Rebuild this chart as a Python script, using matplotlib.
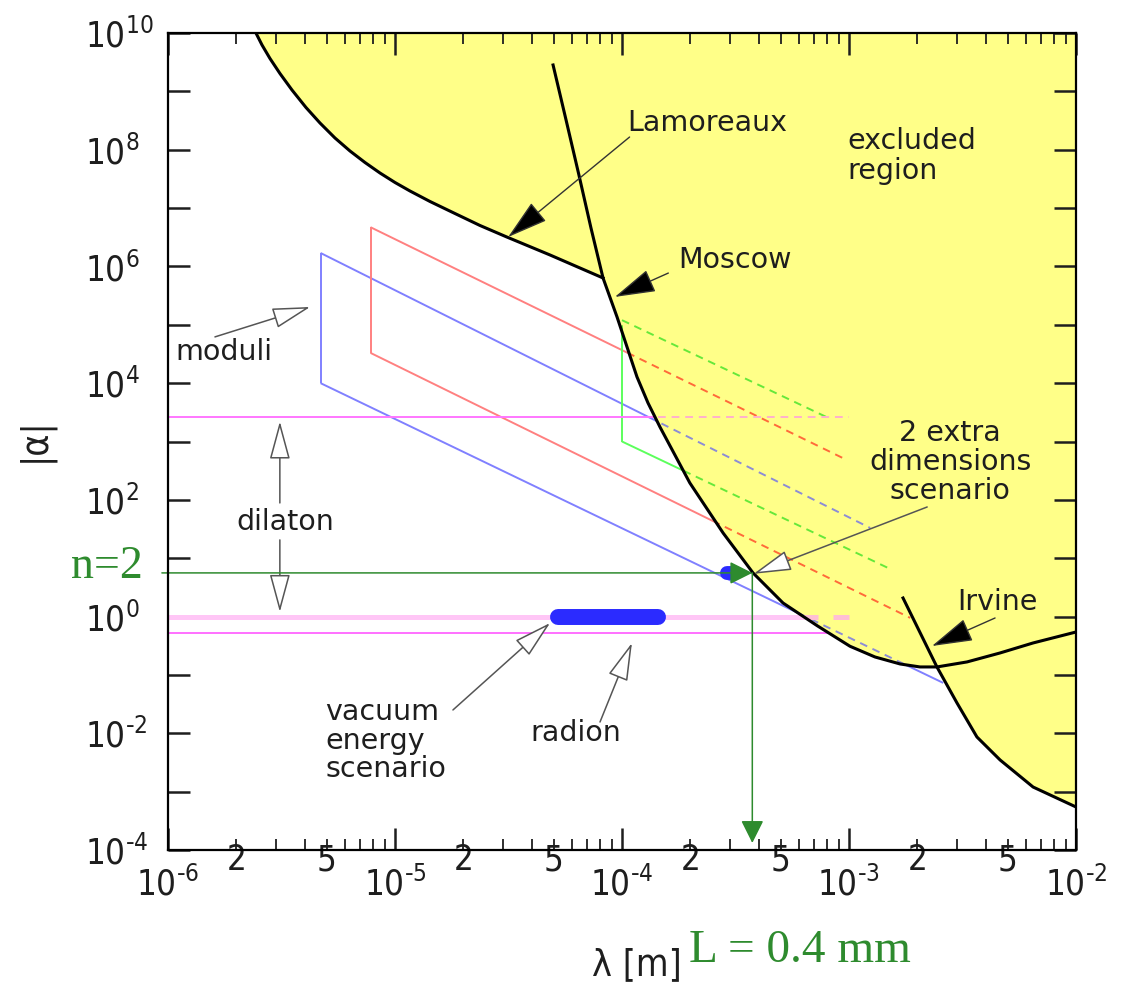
import numpy as np
import matplotlib
matplotlib.use('Agg')
import matplotlib.pyplot as plt
from matplotlib import font_manager as fm
from matplotlib.patches import Polygon
from matplotlib.ticker import FixedLocator, FixedFormatter, NullLocator

# ---- values (lambda in m, |alpha|) ----
lam_lamoreaux = [2.44e-6, 2.595e-6, 2.813e-6, 3.113e-6, 3.517e-6, 4.054e-6, 4.672e-6,
                 5.44e-6, 6.334e-6, 7.375e-6, 8.587e-6, 1.0e-5, 1.164e-5, 1.426e-5,
                 1.837e-5, 2.368e-5, 3.11e-5, 4.82e-5, 6.53e-5, 8.25e-5]
alpha_lamoreaux = [1e10, 6.23e9, 3.66e9, 2.023e9, 1.055e9, 5.29e8, 2.87e8,
                   1.588e8, 9.51e7, 6.04e7, 3.99e7, 2.744e7, 1.962e7, 1.297e7,
                   8.07e6, 5.03e6, 3.19e6, 1.57e6, 9.40e5, 6.34e5]

lam_moscow = [4.97e-5, 5.67e-5, 6.46e-5, 7.30e-5, 8.25e-5, 9.51e-5, 1.164e-4, 1.302e-4,
              1.47e-4, 1.99e-4, 2.79e-4, 3.78e-4, 5.12e-4, 7.23e-4, 1.01e-3, 1.302e-3,
              1.68e-3, 2.055e-3, 2.44e-3, 3.31e-3, 4.63e-3, 6.47e-3, 1.0e-2]
alpha_moscow = [2.83e9, 3.23e8, 3.69e7, 4.56e6, 6.34e5, 1.36e5, 1.28e4, 4.57e3,
                1.77e3, 195, 27.0, 5.58, 1.71, 0.70, 0.31, 0.203,
                0.154, 0.137, 0.137, 0.167, 0.238, 0.353, 0.544]

lam_irvine = [1.73e-3, 2.44e-3, 2.99e-3, 3.66e-3, 4.63e-3, 6.47e-3, 1.0e-2]
alpha_irvine = [2.08, 0.137, 0.0331, 8.65e-3, 3.49e-3, 1.20e-3, 5.46e-4]

lam_join = 8.25e-5    # Lamoreaux meets Moscow
lam_cross = 2.44e-3   # Moscow meets Irvine

# moduli parallelograms: blue, red, green
mod_lam_left = [4.7e-6, 7.8e-6, 1.0e-4]
mod_alpha_top = [1.7e6, 4.7e6, 1.2e5]
mod_alpha_bot = [1.0e4, 3.3e4, 1.0e3]
mod_top_end_lam = [1.24e-3, 9.4e-4, 8.0e-4]
mod_top_end_alpha = [33.0, 520.0, 2.6e3]
mod_bot_end_lam = [2.6e-3, 1.86e-3, 1.55e-3]
mod_bot_end_alpha = [0.073, 0.95, 6.3]

# dilaton lines
dilaton_alpha = [2.6e3, 1.0, 0.52]
dilaton_lam = [1e-6, 1e-3]

radion_lam = [5.2e-5, 1.44e-4]
radion_alpha = 1.0
n2_blob_lam = [2.9e-4, 3.1e-4]
n2_alpha = 5.6
L_lam = 3.75e-4

x_major = [1e-6, 1e-5, 1e-4, 1e-3, 1e-2]
x_exp = [-6, -5, -4, -3, -2]
y_exp = list(range(-4, 11))


def pow_label(e):
    if e < 0:
        return r'$\mathregular{10^{\text{-}%d}}$' % (-e)
    return r'$\mathregular{10^{%d}}$' % e


# ---- fonts ----
names = {f.name for f in fm.fontManager.ttflist}
narrow = 'Liberation Sans Narrow' in names
axis_fp = fm.FontProperties(family='Liberation Sans Narrow' if narrow else 'DejaVu Sans',
                            stretch='condensed', size=29 if narrow else 25)
title_fp = fm.FontProperties(family='Liberation Sans Narrow' if narrow else 'DejaVu Sans',
                             stretch='condensed', size=31 if narrow else 27)
lab_kw = dict(family='DejaVu Sans', fontsize=20.5, color='#1e1e1e')
green = '#2e8b2e'

W, H = 1126, 984
fig = plt.figure(figsize=(W / 100, H / 100), dpi=100)
ax = fig.add_axes([168 / W, 1 - 850 / H, 908 / W, 817 / H])
ax.set_xscale('log')
ax.set_yscale('log')
ax.set_xlim(1e-6, 1e-2)
ax.set_ylim(1e-4, 1e10)

# excluded region
lam_l = np.array(lam_lamoreaux); a_l = np.array(alpha_lamoreaux)
lam_m = np.array(lam_moscow); a_m = np.array(alpha_moscow)
lam_i = np.array(lam_irvine); a_i = np.array(alpha_irvine)
sel_m = (lam_m > lam_join) & (lam_m < lam_cross)
sel_i = lam_i >= lam_cross
bx = np.concatenate([lam_l, lam_m[sel_m], lam_i[sel_i]])
by = np.concatenate([a_l, a_m[sel_m], a_i[sel_i]])

yellow = Polygon(np.column_stack([np.append(bx, 1e-2), np.append(by, 1e10)]),
                 closed=True, fc='#ffff88', ec='none', zorder=1)
ax.add_patch(yellow)
white = Polygon(np.column_stack([np.concatenate([[1e-6], bx, [1e-2, 1e-6]]),
                                 np.concatenate([[1e10], by, [1e-4, 1e-4]])]),
                closed=True, transform=ax.transData)


def model_line(xs, ys, col, dcol, lw=1.4, dashed=True):
    l1, = ax.plot(xs, ys, color=col, lw=lw, zorder=2, solid_capstyle='butt')
    l1.set_clip_path(white)
    if dashed:
        l2, = ax.plot(xs, ys, color=dcol, lw=lw, dashes=(4, 3), zorder=2)
        l2.set_clip_path(yellow)


solid_cols = ['#8080ff', '#ff8080', '#5cff5c']
dash_cols = ['#8c8cd6', '#ff6a3a', '#66e83a']
for i in range(3):
    model_line([mod_lam_left[i], mod_top_end_lam[i]], [mod_alpha_top[i], mod_top_end_alpha[i]],
               solid_cols[i], dash_cols[i])
    model_line([mod_lam_left[i], mod_bot_end_lam[i]], [mod_alpha_bot[i], mod_bot_end_alpha[i]],
               solid_cols[i], dash_cols[i])
    model_line([mod_lam_left[i], mod_lam_left[i]], [mod_alpha_bot[i], mod_alpha_top[i]],
               solid_cols[i], dash_cols[i])

model_line(dilaton_lam, [dilaton_alpha[0]] * 2, '#ff77ff', '#ffb0cc', lw=1.4)
model_line(dilaton_lam, [dilaton_alpha[1]] * 2, '#ffc6f6', '#ffbfd4', lw=3.6)
model_line(dilaton_lam, [dilaton_alpha[2]] * 2, '#ff70ff', None, lw=1.4, dashed=False)

# boundaries
for xs, ys in [(lam_lamoreaux, alpha_lamoreaux), (lam_moscow, alpha_moscow),
               (lam_irvine, alpha_irvine)]:
    ax.plot(xs, ys, color='black', lw=2.2, zorder=4, solid_joinstyle='round')

# radion / n=2 marks
ax.plot(radion_lam, [radion_alpha] * 2, color='#2b2bff', lw=11.5, solid_capstyle='round', zorder=3)
ax.plot(n2_blob_lam, [n2_alpha] * 2, color='#2b2bff', lw=10, solid_capstyle='round', zorder=3)

# ---- labels and arrows ----
hollow = dict(arrowstyle='-|>,head_length=24,head_width=6.5', mutation_scale=1,
              shrinkA=0, shrinkB=0, fc='white', ec='#555555', lw=1.1)
solid = dict(arrowstyle='-|>,head_length=26,head_width=7.5', mutation_scale=1,
             shrinkA=0, shrinkB=0, fc='black', ec='#333333', lw=1.0)

ax.text(1.06e-4, 2.87e8, 'Lamoreaux', ha='left', va='center', zorder=5, **lab_kw)
ax.annotate('', xy=(3.15e-5, 3.19e6), xytext=(1.08e-4, 1.65e8), arrowprops=solid, zorder=5)
ax.text(9.8e-4, 7.8e7, 'excluded\nregion', ha='left', va='center', linespacing=1.05,
        zorder=5, **lab_kw)
ax.text(1.77e-4, 1.29e6, 'Moscow', ha='left', va='center', zorder=5, **lab_kw)
ax.annotate('', xy=(9.3e-5, 3.0e5), xytext=(1.6e-4, 7.7e5), arrowprops=solid, zorder=5)
ax.text(1.074e-6, 3.42e4, 'moduli', ha='left', va='center', zorder=5, **lab_kw)
ax.annotate('', xy=(4.23e-6, 2.02e5), xytext=(1.61e-6, 6.2e4), arrowprops=hollow, zorder=5)
ax.text(3.27e-6, 41.8, 'dilaton', ha='center', va='center', zorder=5, **lab_kw)
ax.annotate('', xy=(3.11e-6, 2.2e3), xytext=(3.11e-6, 88.5), arrowprops=hollow, zorder=5)
ax.annotate('', xy=(3.11e-6, 1.2), xytext=(3.11e-6, 20.6), arrowprops=hollow, zorder=5)
ax.text(2.79e-3, 446, '2 extra\ndimensions\nscenario', ha='center', va='center',
        multialignment='center', linespacing=1.05, zorder=5, **lab_kw)
ax.annotate('', xy=(3.8e-4, 5.4), xytext=(2.21e-3, 75.5), arrowprops=hollow, zorder=5)
ax.text(2.99e-3, 1.78, 'Irvine', ha='left', va='center', zorder=5, **lab_kw)
ax.annotate('', xy=(2.32e-3, 0.313), xytext=(4.4e-3, 0.946), arrowprops=solid, zorder=5)
ax.text(4.92e-6, 7.4e-3, 'vacuum\nenergy\nscenario', ha='left', va='center',
        linespacing=1.02, zorder=5, **lab_kw)
ax.annotate('', xy=(4.82e-5, 0.776), xytext=(1.8e-5, 0.0251), arrowprops=hollow, zorder=5)
ax.text(3.94e-5, 0.0101, 'radion', ha='left', va='center', zorder=5, **lab_kw)
ax.annotate('', xy=(1.106e-4, 0.353), xytext=(8.0e-5, 0.0156), arrowprops=hollow, zorder=5)

# green n=2 / L markers
garrow = dict(arrowstyle='-|>,head_length=14,head_width=7', mutation_scale=1,
              shrinkA=0, shrinkB=0, fc=green, ec=green, lw=1.1)
ax.annotate('', xy=(L_lam, n2_alpha), xytext=(9.4e-7, n2_alpha), arrowprops=garrow,
            annotation_clip=False, zorder=6)
ax.annotate('', xy=(L_lam, 1.32e-4), xytext=(L_lam, n2_alpha), arrowprops=garrow,
            annotation_clip=False, zorder=6)
ax.text(7.76e-7, 4.58, 'n=2', ha='right', va='baseline', family='Liberation Serif',
        fontsize=33, color=green, clip_on=False)
fig.text(800 / W, 1 - 962 / H, 'L = 0.4 mm', ha='center', va='baseline',
         family='Liberation Serif', fontsize=34, color=green)

# ---- axes styling ----
for sp in ax.spines.values():
    sp.set_linewidth(1.6)
    sp.set_zorder(7)

ax.xaxis.set_major_locator(FixedLocator(x_major))
ax.xaxis.set_major_formatter(FixedFormatter([pow_label(e) for e in x_exp]))
x_minor = [m * 10.0 ** e for e in range(-6, -2) for m in range(2, 10)]
ax.xaxis.set_minor_locator(FixedLocator(x_minor))
ax.xaxis.set_minor_formatter(FixedFormatter(['2' if m == 2 else '5' if m == 5 else ''
                                             for e in range(-6, -2) for m in range(2, 10)]))
ax.yaxis.set_major_locator(FixedLocator([10.0 ** e for e in y_exp]))
ax.yaxis.set_major_formatter(FixedFormatter([pow_label(e) if e % 2 == 0 else ''
                                             for e in y_exp]))
ax.yaxis.set_minor_locator(NullLocator())

ax.tick_params(which='both', direction='in', top=True, right=True, colors='#1e1e1e')
ax.tick_params(which='major', length=16, width=1.8)
ax.tick_params(axis='x', which='minor', length=8, width=1.3, pad=-5)
ax.tick_params(axis='x', which='major', pad=12)
ax.tick_params(axis='y', which='major', pad=60)

for t in ax.get_xticklabels(which='both') + ax.get_yticklabels():
    t.set_fontproperties(axis_fp)
for t in ax.yaxis.get_major_ticks():
    t.label1.set_horizontalalignment('left')

fig.text(637 / W, 1 - 965 / H, 'λ [m]', ha='center', va='center', fontproperties=title_fp,
         color='#1e1e1e')
fig.text(35 / W, 1 - 440 / H, '|α|', ha='center', va='center', rotation=90,
         fontproperties=title_fp, color='#1e1e1e')

fig.savefig('out.png', dpi=100)
